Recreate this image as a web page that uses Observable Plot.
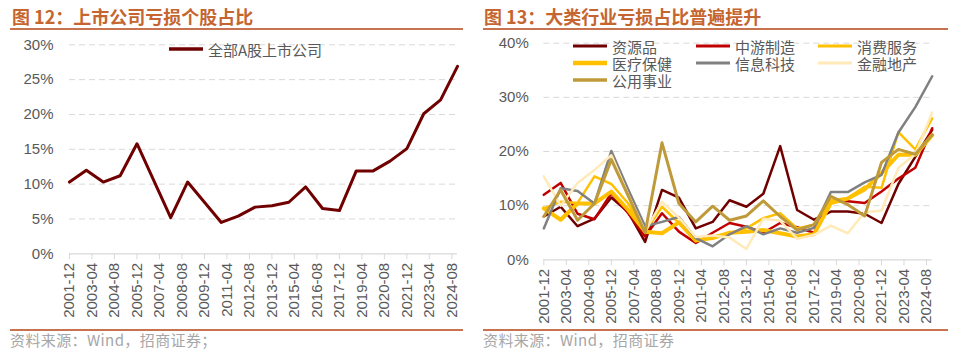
<!DOCTYPE html>
<html><head><meta charset="utf-8">
<script src="https://cdn.jsdelivr.net/npm/d3@7"></script>
<script src="https://cdn.jsdelivr.net/npm/@observablehq/plot@0.6"></script>
<style>
body{margin:0;width:970px;height:354px;background:#fff;position:relative;overflow:hidden;font-family:"Liberation Sans",Arial,sans-serif}
.title{position:absolute;top:5px;line-height:22px;font-family:"Noto Sans CJK SC";font-weight:bold;font-size:18px;color:#C5652F;white-space:nowrap}
.rule{position:absolute;height:2px;background:#C8734F}
.src{position:absolute;top:331px;line-height:18px;font-family:"Noto Sans CJK SC";font-size:15px;letter-spacing:0.4px;color:#A6A6A6;white-space:nowrap}
.chart{position:absolute;top:30px}
.leg{position:absolute;font-family:"Noto Sans CJK SC";font-size:15px;color:#595959;display:flex;align-items:center;white-space:nowrap;line-height:15px;height:15px}
.leg svg{margin-right:5px}
</style></head><body>
<div class="title" style="left:12px">图 12：上市公司亏损个股占比</div>
<div class="title" style="left:484px">图 13：大类行业亏损占比普遍提升</div>
<div class="rule" style="left:10px;width:453px;top:28px"></div>
<div class="rule" style="left:483px;width:465px;top:28px"></div>
<div class="rule" style="left:10px;width:453px;top:329px"></div>
<div class="rule" style="left:483px;width:465px;top:329px"></div>
<div class="src" style="left:10px">资料来源：Wind，招商证券；</div>
<div class="src" style="left:483px">资料来源：Wind，招商证券</div>
<div id="left" class="chart" style="left:0"></div>
<div id="right" class="chart" style="left:480px"></div>
<script>
// ---------- data ----------
const years = [2001,2002,2003,2004,2005,2006,2007,2008,2009,2010,2011,2012,2013,2014,2015,2016,2017,2018,2019,2020,2021,2022,2023,2024];
const tickLabels = ["2001-12","2003-04","2004-08","2005-12","2007-04","2008-08","2009-12","2011-04","2012-08","2013-12","2015-04","2016-08","2017-12","2019-04","2020-08","2021-12","2023-04","2024-08"];
const leftTicks = [0,5,10,15,20,25,30];
const rightTicks = [0,10,20,30,40];

const leftName = "全部A股上市公司";
const allA = [10.3,12.0,10.3,11.2,15.8,10.5,5.2,10.3,7.4,4.5,5.4,6.7,6.9,7.4,9.6,6.5,6.2,11.9,11.9,13.3,15.1,20.1,22.1,26.9];

const seriesNames = ["资源品","中游制造","消费服务","医疗保健","信息科技","金融地产","公用事业"];
const ziyuan   = [8.0,9.8,6.2,7.6,11.5,8.8,3.3,12.9,11.5,5.8,7.0,11.0,9.8,12.2,21.0,9.2,7.4,8.9,8.9,8.5,6.8,14.0,19.0,24.0];
const zhongyou = [12.0,14.2,8.5,7.5,12.3,8.6,4.3,8.6,5.2,3.1,5.0,6.8,6.1,5.0,6.8,6.0,5.0,10.8,10.8,10.5,12.6,15.0,17.0,24.3];
const xiaofei  = [9.5,10.7,10.5,15.4,14.0,10.4,5.2,9.8,6.8,3.4,4.3,4.9,5.8,7.7,8.6,5.8,6.5,11.0,11.4,13.5,13.3,23.6,20.4,26.1];
const yiliao   = [9.5,7.4,10.4,10.4,12.6,9.2,5.2,4.9,6.9,3.6,4.0,5.0,5.2,5.5,4.9,4.3,4.7,10.5,11.3,13.0,16.0,19.4,19.4,23.0];
const xinxi    = [5.8,13.2,12.7,10.4,20.1,13.0,6.2,7.0,7.9,4.0,2.5,4.7,6.2,4.7,5.8,5.0,5.9,12.5,12.5,14.3,15.7,23.5,28.2,33.9];
const jinrong  = [15.4,10.0,14.2,16.6,19.3,12.0,5.3,10.7,7.8,4.2,4.5,4.1,2.0,7.6,7.2,3.9,4.6,6.3,4.9,8.8,9.1,17.0,19.5,27.2];
const gongyong = [8.0,12.9,7.3,10.4,18.5,11.8,5.0,21.6,10.4,7.0,9.9,7.3,8.1,10.9,8.0,5.5,6.5,11.7,10.2,8.1,18.0,20.4,19.5,23.1];

// ---------- styles ----------
const seriesValues = [ziyuan, zhongyou, xiaofei, yiliao, xinxi, jinrong, gongyong];
const colors = ["#700000","#C00000","#FFC000","#FFC000","#808080","#FFEAB8","#BF9A3A"];
const widths = [2.5,2.5,2.5,4,2.5,2.5,3];

const toDate = s => new Date(s + "-01T00:00:00Z");
const yearDate = y => new Date(Date.UTC(y, 11, 1));
const tickDates = tickLabels.map(toDate);
const fmt = d3.utcFormat("%Y-%m");
const xDomain = [yearDate(years[0]), yearDate(years[years.length-1])];

const leftData = years.map((y,i) => ({date: yearDate(y), v: allA[i]}));
const rightData = seriesNames.flatMap((name, k) => years.map((y,i) => ({name, date: yearDate(y), v: seriesValues[k][i]})));

const baseStyle = {fontFamily: "'Liberation Sans', Arial, sans-serif", fontSize: "15px", color: "#595959", background: "transparent", overflow: "visible"};

const left = Plot.plot({
  width: 480, height: 296,
  marginTop: 14.3, marginBottom: 72.7, marginLeft: 69, marginRight: 23,
  style: baseStyle,
  x: {type: "utc", domain: xDomain},
  y: {domain: [0, 30]},
  marks: [
    Plot.gridY(leftTicks.filter(t => t > 0), {stroke: "#D9D9D9", strokeOpacity: 1, strokeDasharray: "6,4"}),
    Plot.ruleY([0], {stroke: "#D9D9D9", strokeWidth: 1.2}),
    Plot.axisY(leftTicks, {tickSize: 0, tickPadding: 16, tickFormat: d => d + "%", fill: "#595959", fontSize: 15, label: null}),
    Plot.axisX(tickDates, {tickFormat: fmt, tickRotate: -90, tickSize: 6, tickPadding: 3, stroke: "#D9D9D9", fill: "#595959", fontSize: 15, label: null}),
    Plot.line(leftData, {x: "date", y: "v", stroke: "#700000", strokeWidth: 3})
  ]
});
document.getElementById("left").appendChild(left);

const right = Plot.plot({
  width: 490, height: 296,
  marginTop: 12.7, marginBottom: 66.7, marginLeft: 63.3, marginRight: 38.3,
  style: baseStyle,
  x: {type: "utc", domain: xDomain},
  y: {domain: [0, 40]},
  marks: [
    Plot.gridY(rightTicks.filter(t => t > 0), {stroke: "#D9D9D9", strokeOpacity: 1, strokeDasharray: "6,4"}),
    Plot.ruleY([0], {stroke: "#D9D9D9", strokeWidth: 1.2}),
    Plot.axisY(rightTicks, {tickSize: 0, tickPadding: 15, tickFormat: d => d + "%", fill: "#595959", fontSize: 15, label: null}),
    Plot.axisX(tickDates, {tickFormat: fmt, tickRotate: -90, tickSize: 6, tickPadding: 3, stroke: "#D9D9D9", fill: "#595959", fontSize: 15, label: null}),
    ...seriesNames.map((name, k) =>
      Plot.line(rightData.filter(d => d.name === name), {x: "date", y: "v", stroke: colors[k], strokeWidth: widths[k]}))
  ]
});
document.getElementById("right").appendChild(right);

// ---------- legends ----------
function legendItem(x, y, label, color, w) {
  const div = document.createElement("div");
  div.className = "leg";
  div.style.left = x + "px";
  div.style.top = (y - 7.5) + "px";
  div.innerHTML = `<svg width="34" height="8"><line x1="0" x2="34" y1="4" y2="4" stroke="${color}" stroke-width="${w+0.5}"/></svg>${label}`;
  document.body.appendChild(div);
}
legendItem(169, 49, leftName, "#700000", 3);
const legCols = [573, 696, 818];
const legRows = [46, 63, 80];
seriesNames.forEach((name, k) => legendItem(legCols[k % 3], legRows[Math.floor(k / 3)], name, colors[k], widths[k]));
</script>
</body></html>
